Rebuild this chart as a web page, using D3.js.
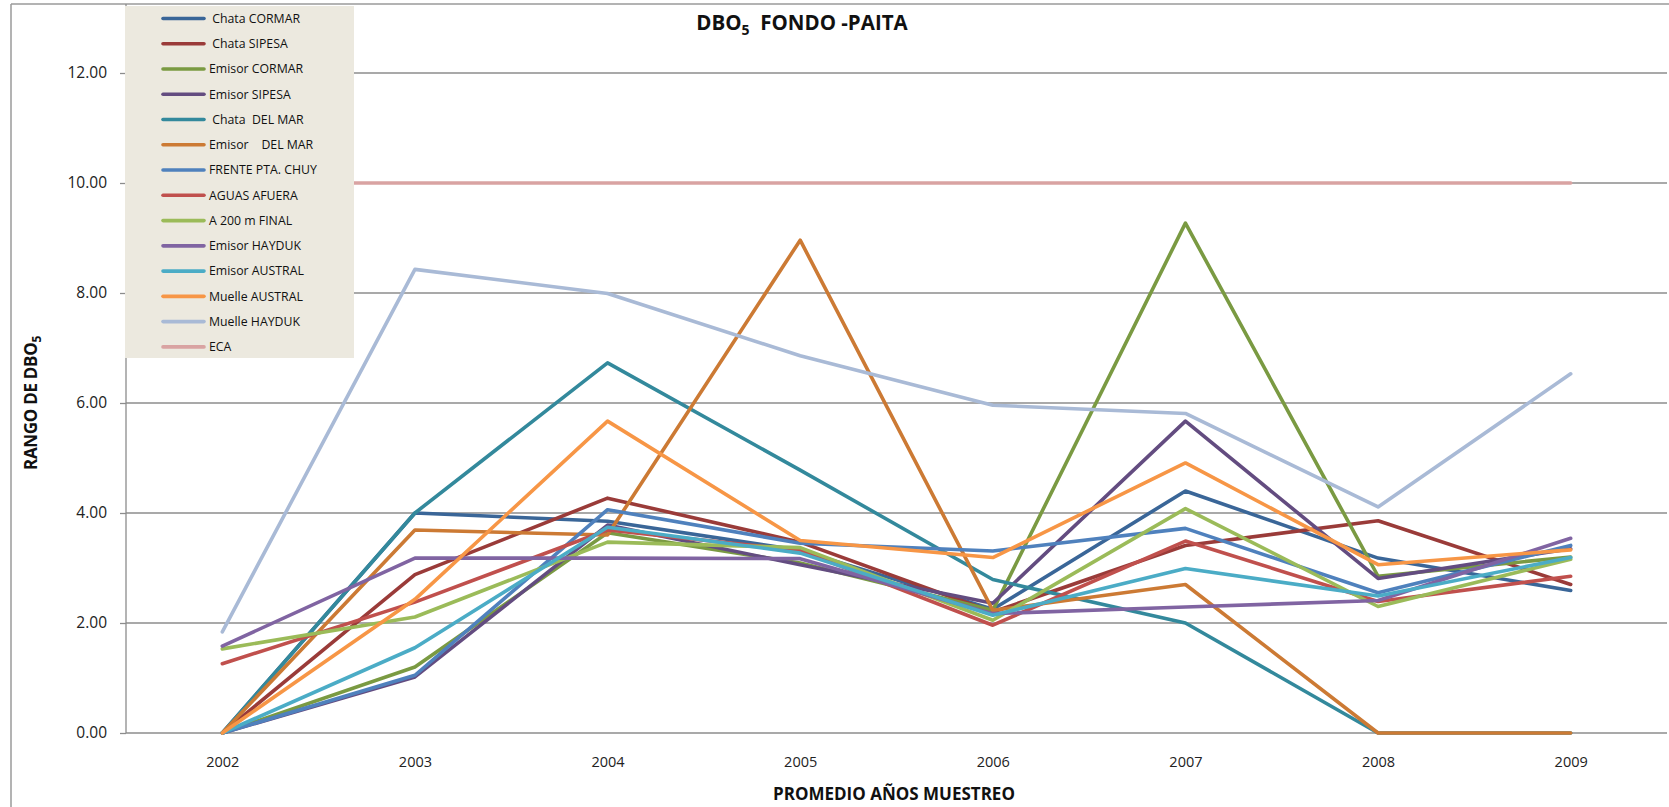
<!DOCTYPE html>
<html>

<head>
    <meta charset="utf-8">
    <script src="https://d3js.org/d3.v7.min.js"></script>
    <style>
        body { margin: 0; background: #fff; }
        .ytick text { font-family: "Open Sans", sans-serif; font-size: 15.5px; fill: #222; }
        .xtick text { font-family: "Open Sans", sans-serif; font-size: 14.5px; fill: #222; }
        .legend text { font-family: "Open Sans", sans-serif; font-size: 12.3px; fill: #111; white-space: pre; }
    </style>
</head>

<body>
    <svg id="chart"></svg>
    <script>
        var width = 1669, height = 807;

        // categories
        var years = ["2002", "2003", "2004", "2005", "2006", "2007", "2008", "2009"];
        var yTicks = [0, 2, 4, 6, 8, 10, 12];

        // series values
        var chataCormar    = [0.00, 4.00, 3.85, 3.32, 2.25, 4.40, 3.18, 2.59];
        var chataSipesa    = [0.00, 2.88, 4.27, 3.47, 2.20, 3.41, 3.86, 2.70];
        var emisorCormar   = [0.00, 1.20, 3.64, 3.09, 2.23, 9.27, 2.85, 3.20];
        var emisorSipesa   = [0.00, 1.02, 3.78, 3.06, 2.36, 5.67, 2.81, 3.35];
        var chataDelMar    = [0.00, 4.00, 6.73, 4.78, 2.79, 2.00, 0.00, 0.00];
        var emisorDelMar   = [0.00, 3.69, 3.60, 8.96, 2.23, 2.70, 0.00, 0.00];
        var frentePtaChuy  = [0.00, 1.05, 4.06, 3.45, 3.31, 3.72, 2.55, 3.41];
        var aguasAfuera    = [1.26, 2.38, 3.69, 3.32, 1.96, 3.49, 2.39, 2.85];
        var a200mFinal     = [1.53, 2.11, 3.47, 3.37, 2.05, 4.08, 2.30, 3.16];
        var emisorHayduk   = [1.58, 3.18, 3.18, 3.17, 2.17, 2.29, 2.41, 3.54];
        var emisorAustral  = [0.00, 1.55, 3.74, 3.27, 2.14, 2.99, 2.49, 3.19];
        var muelleAustral  = [0.00, 2.43, 5.67, 3.50, 3.19, 4.91, 3.06, 3.33];
        var muelleHayduk   = [1.84, 8.43, 7.99, 6.86, 5.96, 5.81, 4.11, 6.53];
        var eca            = [10, 10, 10, 10, 10, 10, 10, 10];

        var seriesNames = [" Chata CORMAR", " Chata SIPESA", "Emisor CORMAR", "Emisor SIPESA", " Chata  DEL MAR",
            "Emisor    DEL MAR", "FRENTE PTA. CHUY", "AGUAS AFUERA", "A 200 m FINAL", "Emisor HAYDUK",
            "Emisor AUSTRAL", "Muelle AUSTRAL", "Muelle HAYDUK", "ECA"];
        var seriesValues = [chataCormar, chataSipesa, emisorCormar, emisorSipesa, chataDelMar, emisorDelMar,
            frentePtaChuy, aguasAfuera, a200mFinal, emisorHayduk, emisorAustral, muelleAustral, muelleHayduk, eca];
        var colors = ["#3A6698", "#9A3B39", "#7A9A42", "#634C80", "#33899C", "#CC7A34",
            "#4F81BD", "#C0504D", "#9BBB59", "#8064A2", "#4BACC6", "#F79646", "#A9BAD6", "#D9A3A2"];

        var series = seriesNames.map((n, i) => ({ name: n, values: seriesValues[i], color: colors[i] }));

        var margin = { left: 126, right: 2, top: 4, bottom: 74 };

        var svg = d3.select("#chart")
            .attr("width", width)
            .attr("height", height);

        var x = d3.scalePoint()
            .domain(years)
            .range([margin.left, width - margin.right])
            .padding(0.5);

        var y = d3.scaleLinear()
            .domain([0, 12])
            .range([733, 73]);

        // chart border (top and left)
        svg.append("line").attr("x1", 11).attr("x2", width).attr("y1", 4).attr("y2", 4)
            .attr("stroke", "#9a9a9a").attr("stroke-width", 1.5);
        svg.append("line").attr("x1", 11).attr("x2", 11).attr("y1", 4).attr("y2", height)
            .attr("stroke", "#9a9a9a").attr("stroke-width", 1.5);

        // gridlines
        svg.append("g")
            .selectAll("line")
            .data(yTicks)
            .enter()
            .append("line")
            .attr("x1", margin.left)
            .attr("x2", width - margin.right)
            .attr("y1", d => y(d))
            .attr("y2", d => y(d))
            .attr("stroke", "#8c8c8c")
            .attr("stroke-width", 1.3);

        // y axis
        var yAxis = svg.append("g")
            .attr("class", "ytick")
            .attr("transform", "translate(" + margin.left + ",0)")
            .call(d3.axisLeft(y).tickValues(yTicks).tickFormat(d3.format(".2f")).tickSize(6).tickPadding(13));
        yAxis.select(".domain").remove();
        yAxis.selectAll("line").attr("stroke", "#8c8c8c").attr("stroke-width", 1.3);
        svg.append("line").attr("x1", margin.left).attr("x2", margin.left).attr("y1", 4).attr("y2", y(0))
            .attr("stroke", "#8c8c8c").attr("stroke-width", 1.3);

        // x axis labels
        var xAxis = svg.append("g")
            .attr("class", "xtick")
            .attr("transform", "translate(0," + y(0) + ")")
            .call(d3.axisBottom(x).tickSize(0).tickPadding(24));
        xAxis.select(".domain").remove();

        // lines
        var line = d3.line()
            .x((d, i) => x(years[i]))
            .y(d => y(d));

        svg.append("g")
            .selectAll("path")
            .data(series)
            .enter()
            .append("path")
            .attr("fill", "none")
            .attr("stroke", d => d.color)
            .attr("stroke-width", 3.6)
            .attr("stroke-linejoin", "round")
            .attr("stroke-linecap", "round")
            .attr("d", d => line(d.values));

        // title
        var title = svg.append("text")
            .attr("x", 802)
            .attr("y", 30)
            .attr("text-anchor", "middle")
            .style("font-family", "'Open Sans', sans-serif")
            .style("font-weight", "bold")
            .style("font-size", "20.5px")
            .style("white-space", "pre")
            .attr("fill", "#111");
        title.append("tspan").text("DBO");
        title.append("tspan").attr("dy", 5).style("font-size", "14px").text("5");
        title.append("tspan").attr("dy", -5).text("  FONDO -PAITA");

        // axis titles
        svg.append("text")
            .attr("x", 894)
            .attr("y", 800)
            .attr("text-anchor", "middle")
            .style("font-family", "'Open Sans', sans-serif")
            .style("font-weight", "bold")
            .style("font-size", "17px")
            .attr("fill", "#111")
            .text("PROMEDIO AÑOS MUESTREO");

        var yTitle = svg.append("text")
            .attr("transform", "translate(37,403) rotate(-90)")
            .attr("text-anchor", "middle")
            .style("font-family", "'Open Sans', sans-serif")
            .style("font-weight", "bold")
            .style("font-size", "17px")
            .style("letter-spacing", "-0.3px")
            .attr("fill", "#111");
        yTitle.append("tspan").text("RANGO DE DBO");
        yTitle.append("tspan").attr("dy", 4).style("font-size", "12px").text("5");

        // legend
        var legend = svg.append("g").attr("class", "legend");
        legend.append("rect")
            .attr("x", 125).attr("y", 6)
            .attr("width", 229).attr("height", 352)
            .attr("fill", "#ECE9DF");

        var legendItems = legend.selectAll("g.item")
            .data(series)
            .enter()
            .append("g")
            .attr("class", "item")
            .attr("transform", (d, i) => "translate(0," + (18.5 + i * 25.26) + ")");

        legendItems.append("line")
            .attr("x1", 163).attr("x2", 204)
            .attr("stroke", d => d.color)
            .attr("stroke-width", 3.6)
            .attr("stroke-linecap", "round");

        legendItems.append("text")
            .attr("x", 209)
            .attr("dy", "0.35em")
            .text(d => d.name);
    </script>
</body>

</html>
